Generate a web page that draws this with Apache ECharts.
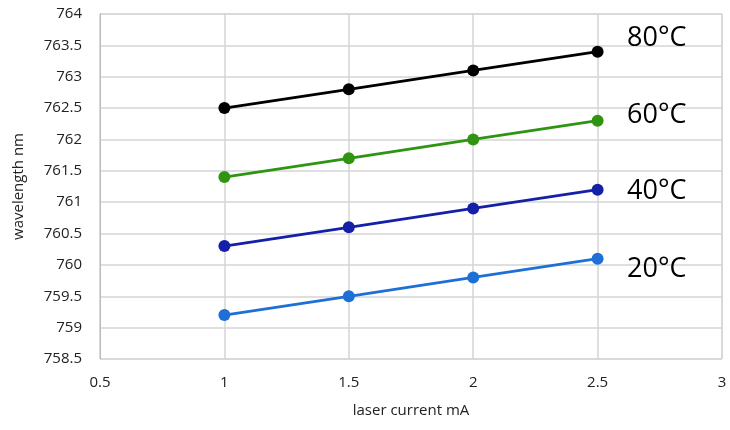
<!DOCTYPE html>
<html>
<head>
<meta charset="utf-8">
<script src="https://cdn.jsdelivr.net/npm/echarts@6/dist/echarts.min.js"></script>
<style>html,body{margin:0;padding:0;background:#fff;}#c{width:730px;height:430px;}</style>
</head>
<body>
<div id="c"></div>
<script>
var current = [1, 1.5, 2, 2.5];
var t20 = [759.2, 759.5, 759.8, 760.1];
var t40 = [760.3, 760.6, 760.9, 761.2];
var t60 = [761.4, 761.7, 762.0, 762.3];
var t80 = [762.5, 762.8, 763.1, 763.4];
var seriesNames = ['20°C', '40°C', '60°C', '80°C'];
var seriesColors = ['#1e6fd6', '#1420a8', '#2f9412', '#000000'];
var labelY = [272, 194, 118, 41];

var chart = echarts.init(document.getElementById('c'));
var font = '"Open Sans", "Noto Sans", sans-serif';
function pairs(ys){ return current.map(function(x,i){ return [x, ys[i]]; }); }
var allData = [t20, t40, t60, t80];
var series = allData.map(function(d, i){
  return {
    name: seriesNames[i], type: 'line', data: pairs(d),
    symbol: 'circle', symbolSize: 12,
    lineStyle: {color: seriesColors[i], width: 2.8},
    itemStyle: {color: seriesColors[i]},
    z: 3 + i
  };
});
chart.setOption({
  animation: false,
  grid: {left: 100, right: 8, top: 14, bottom: 71, show: true, borderColor: '#cfcfcf', borderWidth: 1},
  xAxis: {
    type: 'value', min: 0.5, max: 3, interval: 0.5,
    name: 'laser current mA', nameLocation: 'middle', nameGap: 44,
    nameTextStyle: {fontFamily: font, fontSize: 15, color: '#222'},
    axisLine: {show: false}, axisTick: {show: false},
    axisLabel: {fontFamily: font, fontSize: 15, color: '#222', margin: 16},
    splitLine: {show: true, lineStyle: {color: '#d4d4d4', width: 1.5}}
  },
  yAxis: {
    type: 'value', min: 758.5, max: 764, interval: 0.5,
    name: 'wavelength nm', nameLocation: 'middle', nameGap: 74,
    nameTextStyle: {fontFamily: font, fontSize: 15, color: '#222', fontWeight: 500},
    axisLine: {show: true, lineStyle: {color: '#bbbbbb'}}, axisTick: {show: false},
    axisLabel: {fontFamily: font, fontSize: 15, color: '#222', margin: 18},
    splitLine: {show: true, lineStyle: {color: '#d4d4d4', width: 1.5}}
  },
  series: series,
  graphic: seriesNames.map(function(n, i){
    return {type: 'text', left: 627, top: labelY[i] - 16,
      style: {text: n, fontFamily: font, fontSize: 27, fill: '#000'}, z: 10};
  })
});
</script>
</body>
</html>
